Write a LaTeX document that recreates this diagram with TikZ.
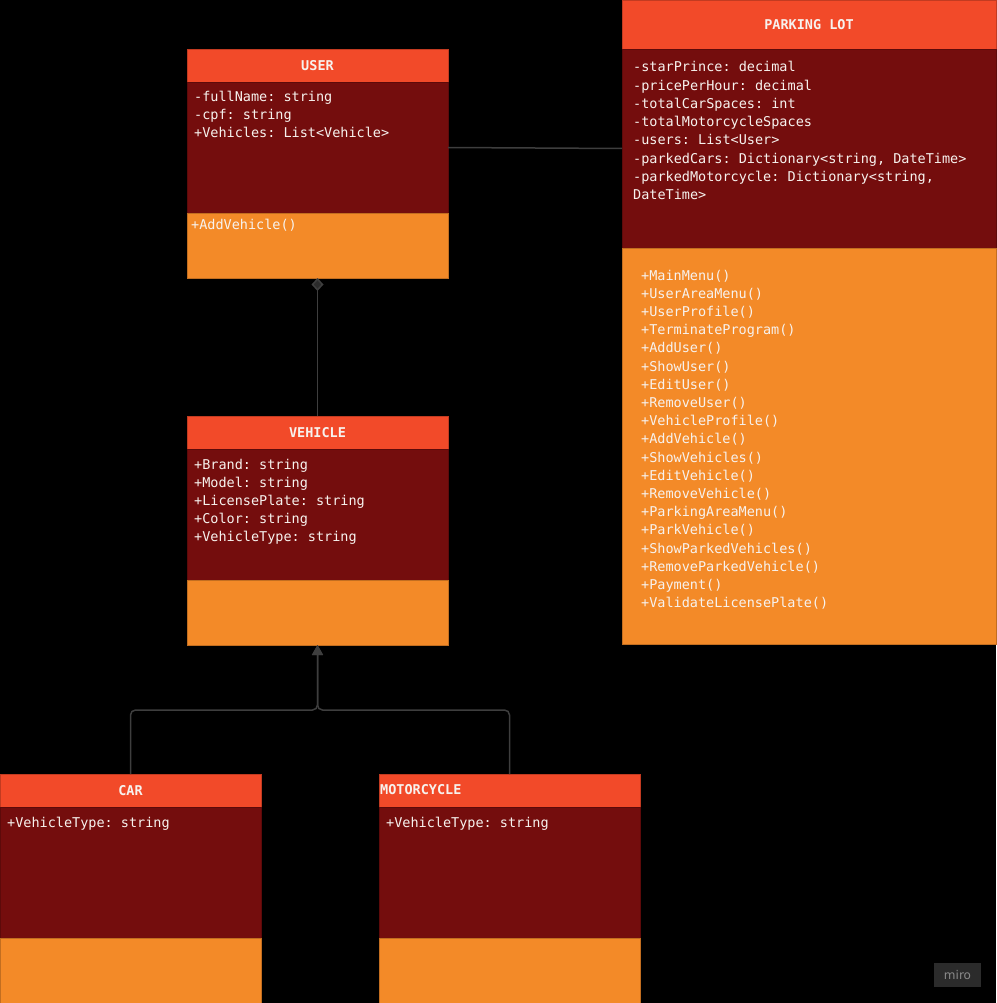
\documentclass[tikz,border=0pt]{standalone}
\usepackage{fontspec}
\setmonofont{DejaVu Sans Mono}
\setsansfont{DejaVu Sans}
\usetikzlibrary{arrows.meta}
\definecolor{hdrc}{HTML}{F24A29}
\definecolor{attc}{HTML}{740D0D}
\definecolor{metc}{HTML}{F38A28}
\definecolor{linec}{HTML}{3E3E3E}
\definecolor{txtc}{HTML}{F7F2EE}
\definecolor{mirobg}{HTML}{2B2B2B}
\definecolor{mirotx}{HTML}{8A8A8A}
\begin{document}
\begin{tikzpicture}[x=1pt,y=-1pt,
 comp/.style={anchor=north west, inner sep=0pt, outer sep=0pt, minimum width=#1},
 hdr/.style={comp=#1, fill=hdrc, draw=hdrc!80!black, line width=0.6pt, minimum height=33pt, text=txtc, font=\ttfamily\bfseries\fontsize{13.5}{16}\selectfont},
 att/.style 2 args={comp=#1, fill=attc, draw=attc!80!black, line width=0.6pt, minimum height=#2},
 met/.style 2 args={comp=#1, fill=metc, draw=metc!80!black, line width=0.6pt, minimum height=#2},
 txt/.style={anchor=base west, inner sep=0pt, text=txtc, font=\ttfamily\fontsize{13.5}{16}\selectfont},
 ttl/.style={anchor=west, inner sep=0pt, text=txtc, font=\ttfamily\bfseries\fontsize{13.5}{16}\selectfont},
 conn/.style={draw=linec, line width=1.5pt},
]
\useasboundingbox (0,0) rectangle (996,1003);
\fill[black] (0,0) rectangle (996,1003);

% USER
\node[hdr=261pt] (userH) at (187,49) {USER};
\node[att={261pt}{131pt}] (userA) at (187,82) {};
\node[met={261pt}{65pt}] (userM) at (187,213) {};
\foreach \t [count=\i from 0] in {{-fullName: string},{-cpf: string},{+Vehicles: List<Vehicle>}}
  \node[txt] (usera\i) at (194,{101.5+18.25*\i}) {\t};
\node[txt] (userm0) at (191,229) {+AddVehicle()};

% PARKING LOT
\node[hdr=374pt, minimum height=49pt] (plH) at (622,0) {PARKING LOT};
\node[att={374pt}{199pt}] (plA) at (622,49) {};
\node[met={374pt}{396pt}] (plM) at (622,248) {};
\foreach \t [count=\i from 0] in {{-starPrince: decimal},{-pricePerHour: decimal},{-totalCarSpaces: int},{-totalMotorcycleSpaces},{-users: List<User>},{-parkedCars: Dictionary<string, DateTime>},{-parkedMotorcycle: Dictionary<string,},{DateTime>}}
  \node[txt] (pla\i) at (633,{72+18.25*\i}) {\t};
\foreach \t [count=\i from 0] in {{+MainMenu()},{+UserAreaMenu()},{+UserProfile()},{+TerminateProgram()},{+AddUser()},{+ShowUser()},{+EditUser()},{+RemoveUser()},{+VehicleProfile()},{+AddVehicle()},{+ShowVehicles()},{+EditVehicle()},{+RemoveVehicle()},{+ParkingAreaMenu()},{+ParkVehicle()},{+ShowParkedVehicles()},{+RemoveParkedVehicle()},{+Payment()},{+ValidateLicensePlate()}}
  \node[txt] (plm\i) at (641,{280+18.2*\i}) {\t};

% VEHICLE
\node[hdr=261pt] (vehH) at (187,416) {VEHICLE};
\node[att={261pt}{131pt}] (vehA) at (187,449) {};
\node[met={261pt}{65pt}] (vehM) at (187,580) {};
\foreach \t [count=\i from 0] in {{+Brand: string},{+Model: string},{+LicensePlate: string},{+Color: string},{+VehicleType: string}}
  \node[txt] (veha\i) at (194,{469+18.2*\i}) {\t};

% CAR
\node[hdr=261pt] (carH) at (0,774) {CAR};
\node[att={261pt}{131pt}] (carA) at (0,807) {};
\node[met={261pt}{70pt}] (carM) at (0,938) {};
\node[txt] (cara0) at (7,827) {+VehicleType: string};

% MOTORCYCLE
\node[hdr=261pt] (motH) at (379,774) {};
\node[ttl] (motT) at (380,790) {MOTORCYCLE};
\node[att={261pt}{131pt}] (motA) at (379,807) {};
\node[met={261pt}{70pt}] (motM) at (379,938) {};
\node[txt] (mota0) at (386,827) {+VehicleType: string};

% connectors
\draw[conn] (userA.east) -- (plA.west);
\draw[conn, {Diamond[length=13pt,width=12pt,fill=linec!110]}-] (userM.south) -- (vehH.north);
\coordinate (jn) at (318,710);
\draw[conn, rounded corners=5pt, -{Triangle[length=10pt,width=11pt]}] (carH.north) -- (carH.north |- jn) -- (vehM.south |- jn) -- (vehM.south);
\draw[conn, rounded corners=5pt, -{Triangle[length=10pt,width=11pt]}] (motH.north) -- (motH.north |- jn) -- (vehM.south |- jn) -- (vehM.south);

% miro badge
\node[fill=mirobg, text=mirotx, minimum width=47pt, minimum height=24pt, inner sep=0pt, font=\sffamily\fontsize{12}{14}\selectfont] (miro) at (957.5,975) {miro};
\end{tikzpicture}
\end{document}
